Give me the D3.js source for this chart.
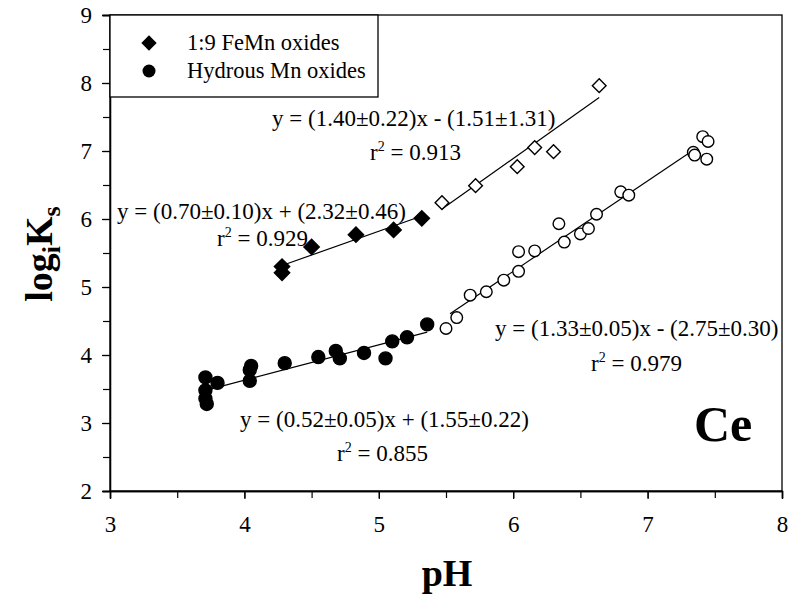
<!DOCTYPE html>
<html>
<head>
<meta charset="utf-8">
<script src="https://cdn.jsdelivr.net/npm/d3@7"></script>
<style>
  body { margin: 0; background: #fff; }
  svg, svg text { font-family: "Liberation Serif", "Times New Roman", serif; }
</style>
</head>
<body>
<svg id="chart"></svg>
<script>
const WIDTH = 793;
const HEIGHT = 598;

// 1:9 FeMn oxides, filled (low pH) and open (high pH)
const femnLowPH = [4.28, 4.28, 4.50, 4.83, 5.11, 5.32];
const femnLowK  = [5.30, 5.21, 5.59, 5.77, 5.84, 6.01];
const femnHighPH = [5.47, 5.72, 6.03, 6.16, 6.30, 6.64];
const femnHighK  = [6.24, 6.49, 6.77, 7.05, 6.99, 7.96];

// hydrous Mn oxides, filled (low pH) and open (high pH)
const hmoLowPH = [3.71, 3.71, 3.71, 3.72, 3.80, 4.04, 4.04, 4.05, 4.30, 4.55, 4.68, 4.71, 4.89, 5.05, 5.10, 5.21, 5.36];
const hmoLowK  = [3.67, 3.48, 3.36, 3.28, 3.59, 3.62, 3.78, 3.84, 3.88, 3.97, 4.06, 3.95, 4.03, 3.95, 4.20, 4.26, 4.45];
const hmoHighPH = [5.50, 5.58, 5.68, 5.80, 5.93, 6.04, 6.04, 6.16, 6.34, 6.38, 6.50, 6.56, 6.62, 6.80, 6.86, 7.34, 7.35, 7.41, 7.45, 7.44];
const hmoHighK  = [4.39, 4.55, 4.88, 4.93, 5.10, 5.23, 5.52, 5.53, 5.93, 5.66, 5.78, 5.86, 6.07, 6.40, 6.35, 6.98, 6.94, 7.21, 7.14, 6.88];

// regression lines: slope, intercept, pH range
const fitSlope     = [0.70, 1.40, 0.52, 1.33];
const fitIntercept = [2.32, -1.51, 1.55, -2.75];
const fitFrom      = [4.28, 5.47, 3.72, 5.53];
const fitTo        = [5.32, 6.64, 5.36, 7.32];

const fitEquations = [
  "y = (0.70\u00b10.10)x + (2.32\u00b10.46)",
  "y = (1.40\u00b10.22)x - (1.51\u00b11.31)",
  "y = (0.52\u00b10.05)x + (1.55\u00b10.22)",
  "y = (1.33\u00b10.05)x - (2.75\u00b10.30)"
];
const fitR2 = ["0.929", "0.913", "0.855", "0.979"];

const legendLabels = ["1:9 FeMn oxides", "Hydrous Mn oxides"];
const xTicks = [3, 4, 5, 6, 7, 8];
const yTicks = [2, 3, 4, 5, 6, 7, 8, 9];

const margin = {left: 110, right: 11, top: 15, bottom: 107};

function main(){
  const svg = d3.select("#chart").attr("width", WIDTH).attr("height", HEIGHT);

  const x = d3.scaleLinear().domain([3, 8]).range([margin.left, WIDTH - margin.right]);
  const y = d3.scaleLinear().domain([2, 9]).range([HEIGHT - margin.bottom, margin.top]);

  const minorX = d3.range(3, 8.01, 0.5);
  const minorY = d3.range(2, 9.01, 0.5);

  // frame
  svg.append("rect")
    .attr("x", x(3)).attr("y", y(9))
    .attr("width", x(8) - x(3)).attr("height", y(2) - y(9))
    .attr("fill", "none").attr("stroke", "#000").attr("stroke-width", 1.3);

  svg.append("g")
    .attr("transform", "translate(0," + y(2) + ")")
    .call(d3.axisBottom(x).tickValues(minorX).tickSize(7).tickFormat(""));
  svg.append("g")
    .attr("transform", "translate(0," + y(2) + ")")
    .call(d3.axisBottom(x).tickValues(xTicks).tickSize(8).tickPadding(17).tickFormat(d3.format("d")))
    .attr("font-family", null)
    .call(g => g.selectAll("text").attr("font-size", 23).attr("fill", "#000"));

  svg.append("g")
    .attr("transform", "translate(" + x(3) + ",0)")
    .call(d3.axisLeft(y).tickValues(minorY).tickSize(7).tickFormat(""));
  svg.append("g")
    .attr("transform", "translate(" + x(3) + ",0)")
    .call(d3.axisLeft(y).tickValues(yTicks).tickSize(8).tickPadding(10).tickFormat(d3.format("d")))
    .attr("font-family", null)
    .call(g => g.selectAll("text").attr("font-size", 23).attr("fill", "#000"));

  svg.selectAll(".domain").attr("stroke-width", 1.3);
  svg.selectAll(".tick line").attr("stroke-width", 1.2);

  // axis titles
  svg.append("text")
    .attr("x", (x(3) + x(8)) / 2 + 1).attr("y", 586)
    .attr("text-anchor", "middle")
    .attr("font-size", 38).attr("font-weight", "bold")
    .text("pH");

  const yl = svg.append("text")
    .attr("transform", "translate(52,254) rotate(-90)")
    .attr("text-anchor", "middle")
    .attr("font-size", 38).attr("font-weight", "bold");
  yl.append("tspan").text("log");
  yl.append("tspan").attr("font-size", 26).attr("dy", 8).text("i");
  yl.append("tspan").attr("dy", -8).text("K");
  yl.append("tspan").attr("font-size", 26).attr("dy", 8).text("s");

  // fit lines
  const line = d3.line().x(d => x(d[0])).y(d => y(d[1]));
  fitSlope.forEach((s, i) => {
    const pts = [fitFrom[i], fitTo[i]].map(v => [v, s * v + fitIntercept[i]]);
    svg.append("path").attr("d", line(pts))
      .attr("fill", "none").attr("stroke", "#000").attr("stroke-width", 1.2);
  });

  const diamond = d3.symbol().type(d3.symbolDiamond2).size(150);
  const diamondOpen = d3.symbol().type(d3.symbolDiamond2).size(120);

  function drawSeries(xs, ys, kind){
    const data = xs.map((v, i) => [v, ys[i]]);
    const g = svg.append("g");
    if (kind === "diamond" || kind === "diamondOpen") {
      g.selectAll("path").data(data).enter().append("path")
        .attr("d", kind === "diamond" ? diamond : diamondOpen)
        .attr("transform", d => "translate(" + x(d[0]) + "," + y(d[1]) + ")")
        .attr("fill", kind === "diamond" ? "#000" : "#fff")
        .attr("stroke", "#000").attr("stroke-width", 1.4);
    } else {
      g.selectAll("circle").data(data).enter().append("circle")
        .attr("cx", d => x(d[0])).attr("cy", d => y(d[1]))
        .attr("r", kind === "circle" ? 6.5 : 5.8)
        .attr("fill", kind === "circle" ? "#000" : "#fff")
        .attr("stroke", "#000").attr("stroke-width", 1.4);
    }
  }
  drawSeries(femnLowPH, femnLowK, "diamond");
  drawSeries(femnHighPH, femnHighK, "diamondOpen");
  drawSeries(hmoLowPH, hmoLowK, "circle");
  drawSeries(hmoHighPH, hmoHighK, "circleOpen");

  // equation annotations (left x, baseline y for equation; left x, baseline y for r2)
  const eqPos = [[117, 219, 217, 246], [272, 126, 370, 160], [240, 427, 337, 461], [495, 336, 591, 371]];
  fitEquations.forEach((eq, i) => {
    const p = eqPos[i];
    svg.append("text").attr("x", p[0]).attr("y", p[1]).attr("font-size", 23).text(eq);
    const r = svg.append("text").attr("x", p[2]).attr("y", p[3]).attr("font-size", 23);
    r.append("tspan").text("r");
    r.append("tspan").attr("font-size", 14).attr("dy", -9).text("2");
    r.append("tspan").attr("dy", 9).text(" = " + fitR2[i]);
  });

  svg.append("text").attr("x", 694).attr("y", 441)
    .attr("font-size", 50).attr("font-weight", "bold").text("Ce");

  // legend
  const leg = svg.append("g");
  leg.append("rect").attr("x", x(3)).attr("y", y(9))
    .attr("width", 268).attr("height", 82)
    .attr("fill", "#fff").attr("stroke", "#000").attr("stroke-width", 1.3);
  leg.append("path").attr("d", diamond)
    .attr("transform", "translate(149,43)").attr("fill", "#000");
  leg.append("circle").attr("cx", 149).attr("cy", 71).attr("r", 6.5).attr("fill", "#000");
  legendLabels.forEach((t, i) => {
    leg.append("text").attr("x", 187).attr("y", 50 + i * 28).attr("font-size", 22.5).text(t);
  });
}

window.addEventListener("load", main);
</script>
</body>
</html>
